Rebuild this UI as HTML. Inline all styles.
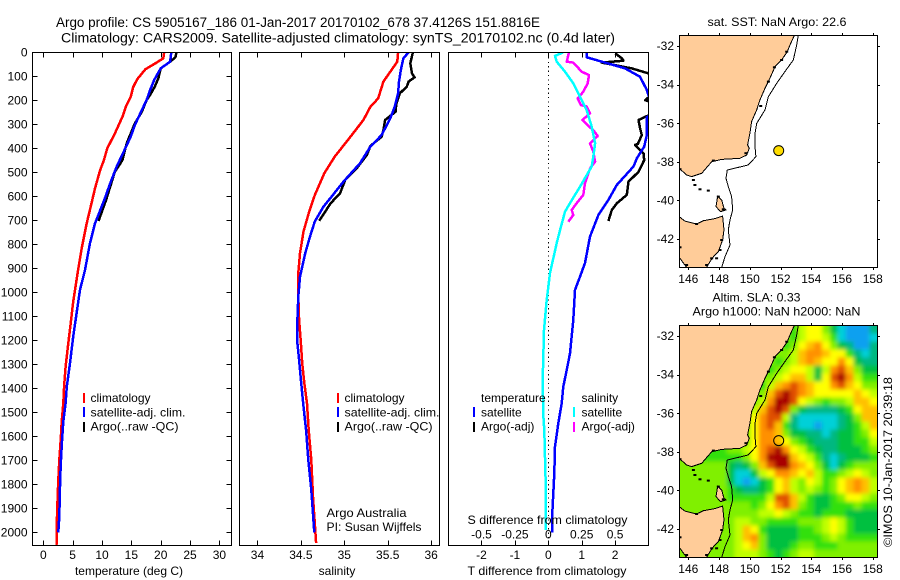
<!DOCTYPE html>
<html lang="en">
<head>
<meta charset="utf-8">
<title>Argo profile 5905167_186</title>
<style>
html,body{margin:0;padding:0;background:#fff;width:900px;height:580px;overflow:hidden}
svg{display:block}
text{font-family:"Liberation Sans",sans-serif;font-size:12px;fill:#000}
.title{font-size:13.5px}
.box{fill:none;stroke:#000;stroke-width:1;shape-rendering:crispEdges}
.tick{stroke:#000;stroke-width:1;shape-rendering:crispEdges}
.prof{fill:none;stroke-width:2.5;shape-rendering:crispEdges;stroke-linejoin:round}
.leg{stroke-width:2;shape-rendering:crispEdges}
</style>
</head>
<body>
<svg id="chart" xmlns="http://www.w3.org/2000/svg" width="900" height="580" viewBox="0 0 900 580">
  <defs>
    <clipPath id="clip-temp"><rect x="32" y="52" width="200" height="494"/></clipPath>
    <clipPath id="clip-sal"><rect x="239" y="52" width="201" height="494"/></clipPath>
    <clipPath id="clip-diff"><rect x="448" y="52" width="201" height="494"/></clipPath>
    <clipPath id="clip-map1"><rect x="679" y="35" width="199" height="233"/></clipPath>
    <clipPath id="clip-map2"><rect x="679" y="325" width="199" height="233"/></clipPath>
    <filter id="sla-blur" x="-10%" y="-10%" width="120%" height="120%"><feGaussianBlur stdDeviation="2.2"/></filter>
  </defs>

  <text class="title" x="56" y="27" textLength="484" lengthAdjust="spacingAndGlyphs">Argo profile: CS 5905167_186 01-Jan-2017 20170102_678 37.4126S 151.8816E</text>
  <text class="title" x="61" y="42.5" textLength="554" lengthAdjust="spacingAndGlyphs">Climatology: CARS2009. Satellite-adjusted climatology: synTS_20170102.nc (0.4d later)</text>

  <g id="panel-temp"></g>
  <g id="panel-sal"></g>
  <g id="panel-diff"></g>
  <g id="panel-map1"></g>
  <g id="panel-map2"></g>

  <text x="129" y="575" text-anchor="middle">temperature (deg C)</text>
  <text x="337" y="575" text-anchor="middle">salinity</text>
  <text x="467.5" y="575" textLength="159" lengthAdjust="spacingAndGlyphs">T difference from climatology</text>
  <text x="467.5" y="524" textLength="160" lengthAdjust="spacingAndGlyphs">S difference from climatology</text>

  <g>
    <line class="leg" x1="84" y1="393" x2="84" y2="403" stroke="#ff0000"/>
    <line class="leg" x1="84" y1="407" x2="84" y2="417" stroke="#0000ff"/>
    <line class="leg" x1="84" y1="422" x2="84" y2="432" stroke="#000000"/>
    <text x="90.5" y="402">climatology</text>
    <text x="90.5" y="416.5" textLength="95" lengthAdjust="spacingAndGlyphs">satellite-adj. clim.</text>
    <text x="90.5" y="430.5" textLength="88" lengthAdjust="spacingAndGlyphs">Argo(..raw -QC)</text>
  </g>
  <g>
    <line class="leg" x1="338" y1="393" x2="338" y2="403" stroke="#ff0000"/>
    <line class="leg" x1="338" y1="407" x2="338" y2="417" stroke="#0000ff"/>
    <line class="leg" x1="338" y1="422" x2="338" y2="432" stroke="#000000"/>
    <text x="344.5" y="402">climatology</text>
    <text x="344.5" y="416.5" textLength="95" lengthAdjust="spacingAndGlyphs">satellite-adj. clim.</text>
    <text x="344.5" y="430.5" textLength="88" lengthAdjust="spacingAndGlyphs">Argo(..raw -QC)</text>
    <text x="326.5" y="517" textLength="80" lengthAdjust="spacingAndGlyphs">Argo Australia</text>
    <text x="326.5" y="531" textLength="95" lengthAdjust="spacingAndGlyphs">PI: Susan Wijffels</text>
  </g>
  <g>
    <text x="481" y="402">temperature</text>
    <text x="581.5" y="402">salinity</text>
    <line class="leg" x1="474" y1="407" x2="474" y2="417" stroke="#0000ff"/>
    <line class="leg" x1="474" y1="422" x2="474" y2="432" stroke="#000000"/>
    <line class="leg" x1="574" y1="407" x2="574" y2="417" stroke="#00ffff"/>
    <line class="leg" x1="574" y1="422" x2="574" y2="432" stroke="#ff00ff"/>
    <text x="481" y="416.5">satellite</text>
    <text x="481" y="430.5">Argo(-adj)</text>
    <text x="581.5" y="416.5">satellite</text>
    <text x="581.5" y="430.5">Argo(-adj)</text>
  </g>

  <text x="707.5" y="26" textLength="139" lengthAdjust="spacingAndGlyphs">sat. SST: NaN Argo: 22.6</text>
  <text x="712.5" y="301.5" textLength="88" lengthAdjust="spacingAndGlyphs">Altim. SLA: 0.33</text>
  <text x="692.5" y="315.5" textLength="168" lengthAdjust="spacingAndGlyphs">Argo h1000: NaN h2000: NaN</text>
  <text transform="translate(892 547) rotate(-90)" textLength="170" lengthAdjust="spacingAndGlyphs">©IMOS 10-Jan-2017 20:39:18</text>
</svg>

<script>
// ---- tick labels
const depthTicks = [0,100,200,300,400,500,600,700,800,900,1000,1100,1200,1300,1400,1500,1600,1700,1800,1900,2000];
const tempTicks = [0,5,10,15,20,25,30];
const salTicks = [34,34.5,35,35.5,36];
const diffTTicks = [-2,-1,0,1,2];
const diffSTicks = [-0.5,-0.25,0,0.25,0.5];
const diffSTickLabels = ['-0.5','-0.25','0','0.25','0.5'];
const lonTicks = [146,148,150,152,154,156,158];
const latTicks = [-32,-34,-36,-38,-40,-42];

// ---- temperature profiles
const tempClimDepth = [0,25,43,71,112,146,185,224,268,338,400,451,490,567,615,713,817,920,1039,1129,1212,1310,1393,1463,1539,1615,1699,1782,1893,1977,2055];
const tempClimValue = [20.6,20.45,19.3,17.4,16.0,15.3,14.9,14.1,13.5,12.2,10.9,10.3,9.7,8.8,8.35,7.4,6.55,5.85,5.1,4.66,4.26,3.8,3.55,3.4,3.13,2.96,2.73,2.56,2.39,2.28,2.25];
const tempSatDepth = [0,39,67,115,157,199,240,303,351,414,476,546,615,713,795,907,990,1081,1185,1295,1393,1463,1539,1620,1720,1810,1935,2000];
const tempSatValue = [21.8,21.6,20,18.9,18.2,17.6,16.8,15.6,14.9,13.7,12.5,11.4,10.4,8.8,7.95,7.1,6.25,5.7,5.1,4.55,4.0,3.8,3.4,3.19,2.96,2.85,2.73,2.56];
const tempArgoDepth = [0,21,39,67,108,143,178,199,247,296,379,449,497,560,615,703];
const tempArgoValue = [22.7,22.5,21.6,20,19.6,19,18.2,17.6,16.8,15.6,14.2,13.5,12.2,11.4,10.7,9.4];

// ---- salinity profiles
const salClimDepth = [0,39,81,122,192,227,282,352,435,504,595,671,747,837,920,1018,1115,1212,1295,1378,1463,1574,1699,1852,2045];
const salClimValue = [35.62,35.61,35.53,35.45,35.39,35.3,35.22,35.07,34.89,34.77,34.66,34.59,34.53,34.49,34.47,34.47,34.48,34.5,34.515,34.54,34.57,34.59,34.62,34.64,34.675];
const salSatDepth = [0,25,74,122,171,227,275,345,393,463,539,601,643,705,768,838,935,1018,1115,1212,1282,1365,1476,1574,1699,1824,1977,2000];
const salSatValue = [35.74,35.68,35.65,35.63,35.62,35.58,35.53,35.43,35.3,35.18,34.99,34.855,34.76,34.66,34.605,34.55,34.49,34.47,34.46,34.46,34.48,34.5,34.53,34.56,34.585,34.62,34.65,34.655];
const salArgoDepth = [0,46,88,104,122,143,171,213,248,282,324,352,390,428,484,532,588,630,664,702];
const salArgoValue = [35.79,35.76,35.78,35.81,35.74,35.72,35.64,35.6,35.59,35.47,35.45,35.43,35.3,35.26,35.14,35.01,34.95,34.84,34.78,34.71];

// ---- difference profiles
const diffTSatDepth = [0,21,43,67,102,157,199,262,271,345,393,442,476,553,615,678,768,878,935,990,1115,1254,1324,1393,1463,1546,1643,1755,1921,2000];
const diffTSatValue = [1.15,1.15,1.7,2.3,2.75,2.95,3.05,3.05,2.95,2.95,2.87,2.65,2.55,2.05,1.8,1.5,1.25,1.1,0.95,0.8,0.75,0.65,0.55,0.45,0.4,0.3,0.2,0.18,0.12,0.12];
const diffTArgoDepth = [4,25,35,43,67,88,129,171,188,199,207,227,257,266,282,317,345,382,386,421,449,498,539,594,629,657,703];
const diffTArgoValue = [2.0,2.2,2.25,1.6,2.5,3.0,3.28,3.28,3.0,2.9,3.05,3.28,3.28,2.95,2.7,2.75,2.8,2.68,2.6,2.85,2.87,2.7,2.4,2.35,2.05,1.9,1.8];
const diffSSatDepth = [0,15,39,81,129,185,240,310,379,435,476,560,629,664,740,795,920,1032,1157,1365,1518,1574,1782,1990];
const diffSSatValue = [0.112,0.05,0.063,0.125,0.187,0.237,0.287,0.325,0.35,0.337,0.325,0.237,0.162,0.125,0.088,0.063,0.013,-0.012,-0.032,-0.042,-0.037,-0.03,-0.02,-0.017];
const diffSArgoDepth = [0,39,43,81,95,129,164,192,220,225,254,282,307,324,349,379,414,456,484,546,594,629,657,678,706];
const diffSArgoValue = [0.155,0.138,0.187,0.25,0.305,0.295,0.262,0.22,0.245,0.287,0.312,0.255,0.3,0.337,0.37,0.312,0.337,0.35,0.312,0.275,0.262,0.212,0.175,0.187,0.15];

// ---- map geography (lon, lat)
const mainlandLon = [152.90,152.62,152.44,152.07,151.64,151.31,150.99,150.66,150.45,150.12,150.01,149.86,149.97,149.80,149.36,148.17,147.52,146.87,146.22,145.89,145.41,145.41];
const mainlandLat = [-31.43,-31.93,-32.28,-32.71,-33.06,-33.66,-34.18,-34.79,-35.30,-35.91,-36.52,-37.12,-37.29,-37.64,-37.81,-37.87,-37.99,-38.59,-38.76,-38.68,-38.33,-31.43];
const tasmaniaLon = [145.41,145.78,146.54,146.98,147.74,148.23,148.32,148.23,147.95,147.63,147.41,147.19,145.89,145.41];
const tasmaniaLat = [-40.84,-41.07,-41.22,-41.05,-40.94,-40.81,-41.53,-42.05,-42.66,-42.92,-43.18,-43.47,-43.47,-42.95];
const flindersLon = [147.91,148.17,148.32,148.45,148.10,147.80];
const flindersLat = [-39.77,-39.98,-40.41,-40.49,-40.58,-40.32];
const isobathLon = [153.16,153.05,152.83,152.29,151.75,151.21,150.99,150.45,150.34,150.34,150.40,149.90,148.54,148.45,148.60,148.82,148.89,148.71,148.60,148.71,148.39,148.17];
const isobathLat = [-31.43,-31.93,-32.71,-33.31,-33.92,-34.61,-35.30,-36.00,-36.52,-37.21,-37.73,-38.16,-38.42,-38.85,-39.28,-39.80,-40.49,-41.01,-41.53,-42.31,-42.92,-43.47];
const islandLon = [152.40,152.07,151.60,151.21,150.71,149.75,147.63,146.33,145.46,147.30,146.43,146.76,148.28,147.95,146.54,148.17,148.06,147.52,147.84,147.19,145.46,145.89];
const islandLat = [-32.28,-32.71,-33.09,-33.83,-35.10,-37.55,-37.93,-38.94,-38.38,-39.49,-39.20,-39.42,-40.46,-39.80,-41.22,-42.05,-42.57,-43.00,-43.00,-43.35,-42.43,-43.35];
const floatLon = [151.8816];
const floatLat = [-37.4126];

// ---- SLA heatmap: 29 rows (north to south) x 25 columns (west to east), colour-level units
const slaLevels = [
[5,5,5,5,5,5,5,5,5,5,5,5,5,5,4,6,7,7,5,3,1,0,0,0,2],
[5,5,5,5,5,5,5,5,5,5,5,5,5,5,4,6,7,7,6,4,1,0,0,0,1],
[5,5,5,5,5,5,5,5,5,5,5,5,5,4,5,7,8,9,7,5,3,2,0,0,2],
[5,5,5,5,5,5,5,5,5,5,5,5,5,5,6,8,9,9,8,7,7,4,2,1,2],
[5,5,5,5,5,5,5,5,5,5,5,5,4,5,6,8,9,8,7,7,9,7,3,2,2],
[5,5,5,5,5,5,5,5,5,5,5,4,5,6,7,7,6,3,6,9,10,8,5,3,3],
[5,5,5,5,5,5,5,5,5,5,5,5,6,7,8,8,6,3,7,10,11,9,6,4,4],
[5,5,5,5,5,5,5,5,5,5,4,6,8,9,10,9,8,7,7,9,10,8,7,5,5],
[5,5,5,5,5,5,5,5,5,5,5,8,10,11,10,9,8,7,7,7,7,7,8,7,6],
[5,5,5,5,5,5,5,5,5,5,6,9,11,11,10,7,6,5,4,5,5,6,8,8,7],
[5,5,5,5,5,5,5,5,5,6,8,10,11,10,5,3,2,2,2,2,3,4,7,8,8],
[5,5,5,5,5,5,5,5,5,7,9,10,10,6,2,1,1,1,1,1,2,3,5,8,8],
[5,5,5,5,5,5,5,5,5,7,9,10,8,4,2,1,1,0,1,1,2,3,4,6,8],
[5,5,5,5,5,5,5,5,5,7,9,9,8,5,3,3,2,2,1,2,3,3,4,5,7],
[5,5,5,5,5,5,5,5,5,7,9,9,8,7,5,4,3,2,2,2,3,3,4,4,6],
[5,5,4,4,4,4,5,5,6,7,9,10,11,9,7,6,4,3,2,2,3,3,3,4,5],
[5,5,4,4,4,4,4,4,5,7,9,11,11,11,8,7,6,4,2,1,2,3,3,3,4],
[5,5,5,5,5,5,3,2,3,5,8,10,11,11,9,8,7,5,3,1,3,4,5,5,5],
[5,5,5,5,5,5,3,1,1,3,6,7,9,9,8,7,8,6,4,4,5,6,7,6,5],
[5,5,5,5,5,5,3,1,0,1,3,4,7,8,6,5,7,6,4,5,7,8,9,8,6],
[5,5,5,5,5,5,4,3,2,2,3,4,7,8,6,5,6,5,4,5,7,8,9,8,6],
[5,5,5,5,5,5,4,4,4,4,4,6,10,10,8,6,4,3,3,4,5,7,7,6,5],
[5,5,5,5,5,5,5,5,5,4,5,7,9,10,8,5,4,3,3,4,4,4,5,4,4],
[5,5,5,5,5,5,5,5,5,5,6,6,7,6,5,4,4,3,4,4,4,3,3,3,3],
[5,5,5,5,5,5,5,6,6,5,5,4,4,4,4,5,5,5,6,7,6,4,3,3,3],
[5,5,5,5,5,5,5,6,8,7,4,3,3,3,3,4,4,5,6,7,6,4,3,3,3],
[5,5,5,5,5,5,5,6,8,9,5,3,3,3,3,4,4,4,5,6,5,4,4,4,4],
[5,5,5,5,5,5,5,6,7,8,5,3,3,3,4,5,5,4,4,4,5,5,5,5,5],
[5,5,5,5,5,5,5,6,6,6,5,4,3,4,5,6,6,5,5,5,5,5,5,5,5]
];
const slaColours = ['#10a0f0','#00d0d8','#00b880','#00c040','#30e010','#80f000','#c0ff00','#ffff00','#ffc000','#ff9000','#e05000','#a80000'];

// ---- axis functions
const depthY = d => 52.3 + 0.24 * d;
const tempX = v => 43.3 + 5.87 * v;
const salX = v => 344.3 + 86.85 * (v - 35);
const diffTX = v => 548.3 + 33.4 * v;
const diffSX = v => 548.3 + 133.6 * v;
const lonX = lon => 688.3 + (lon - 146) * 15.37;
const latOffset = lat => (-32 - lat) * 19.27;

const NS = 'http://www.w3.org/2000/svg';
function make(tag, parent) {
  const el = document.createElementNS(NS, tag);
  parent.appendChild(el);
  return el;
}
function pts(xs, ys, fx, fy) {
  return xs.map((x, i) => fx(x).toFixed(1) + ',' + fy(ys[i]).toFixed(1)).join(' ');
}
function setLine(el, x1, y1, x2, y2) {
  el.setAttribute('x1', x1); el.setAttribute('y1', y1);
  el.setAttribute('x2', x2); el.setAttribute('y2', y2);
  el.setAttribute('class', 'tick');
}
function setText(el, x, y, anchor, str) {
  el.setAttribute('x', x); el.setAttribute('y', y);
  el.setAttribute('text-anchor', anchor);
  el.textContent = str;
}
function round(v) { return Math.round(v) + 0.5; }

// ---- profile panels
function profile(parent, clip, depths, values, fx, colour, name) {
  const p = make('polyline', parent);
  p.setAttribute('points', pts(values, depths, fx, depthY));
  p.setAttribute('class', 'prof');
  p.setAttribute('stroke', colour);
  p.setAttribute('clip-path', 'url(#' + clip + ')');
  
  
}
function frame(parent, x, y, w, h, name) {
  const r = make('rect', parent);
  r.setAttribute('x', x); r.setAttribute('y', y);
  r.setAttribute('width', w); r.setAttribute('height', h);
  r.setAttribute('class', 'box');
  
  
}
function topBottomTicks(parent, values, fx, top, bottom) {
  values.forEach(v => {
    const x = round(fx(v));
    const t = make('line', parent);
    setLine(t, x, top, x, top + 5);
    
    
    const b = make('line', parent);
    setLine(b, x, bottom - 5, x, bottom);
    
    
  });
}

const gT = document.getElementById('panel-temp');
profile(gT, 'clip-temp', tempArgoDepth, tempArgoValue, tempX, '#000000', 'temperature-argo-line');
profile(gT, 'clip-temp', tempClimDepth, tempClimValue, tempX, '#ff0000', 'temperature-climatology-line');
profile(gT, 'clip-temp', tempSatDepth, tempSatValue, tempX, '#0000ff', 'temperature-satellite-line');
frame(gT, 32.5, 52.5, 199, 493, 'temperature-axes-frame');
topBottomTicks(gT, tempTicks, tempX, 52.5, 545.5);
tempTicks.forEach(v => {
  const t = make('text', gT);
  setText(t, tempX(v), 559, 'middle', String(v));
  
  
});
depthTicks.forEach(d => {
  const y = round(depthY(d));
  const a = make('line', gT);
  setLine(a, 32.5, y, 37.5, y);
  
  
  const b = make('line', gT);
  setLine(b, 226.5, y, 231.5, y);
  
  
  const t = make('text', gT);
  setText(t, 27.5, depthY(d) + 4.2, 'end', String(d));
  
  
});

const gS = document.getElementById('panel-sal');
profile(gS, 'clip-sal', salArgoDepth, salArgoValue, salX, '#000000', 'salinity-argo-line');
profile(gS, 'clip-sal', salClimDepth, salClimValue, salX, '#ff0000', 'salinity-climatology-line');
profile(gS, 'clip-sal', salSatDepth, salSatValue, salX, '#0000ff', 'salinity-satellite-line');
frame(gS, 239.5, 52.5, 200, 493, 'salinity-axes-frame');
topBottomTicks(gS, salTicks, salX, 52.5, 545.5);
salTicks.forEach(v => {
  const t = make('text', gS);
  setText(t, salX(v), 559, 'middle', String(v));
  
  
});

const gD = document.getElementById('panel-diff');
const zeroLine = make('line', gD);
setLine(zeroLine, 548.5, 53, 548.5, 545);
zeroLine.setAttribute('stroke-dasharray', '1.2 3.2');


profile(gD, 'clip-diff', diffTArgoDepth, diffTArgoValue, diffTX, '#000000', 'temperature-argo-difference-line');
profile(gD, 'clip-diff', diffTSatDepth, diffTSatValue, diffTX, '#0000ff', 'temperature-satellite-difference-line');
profile(gD, 'clip-diff', diffSArgoDepth, diffSArgoValue, diffSX, '#ff00ff', 'salinity-argo-difference-line');
profile(gD, 'clip-diff', diffSSatDepth, diffSSatValue, diffSX, '#00ffff', 'salinity-satellite-difference-line');
frame(gD, 448.5, 52.5, 200, 493, 'difference-axes-frame');
topBottomTicks(gD, diffTTicks, diffTX, 52.5, 545.5);
diffTTicks.forEach(v => {
  const t = make('text', gD);
  setText(t, diffTX(v), 559, 'middle', String(v));
  
  
});
diffSTicks.forEach((v, i) => {
  const t = make('text', gD);
  setText(t, diffSX(v), 538.5, 'middle', diffSTickLabels[i]);
  
  
});

// ---- maps
function drawGeography(parent, top) {
  const fy = lat => top + 11 + latOffset(lat);
  [[mainlandLon, mainlandLat, 'mainland'], [tasmaniaLon, tasmaniaLat, 'tasmania'], [flindersLon, flindersLat, 'flinders-island']].forEach(shape => {
    const p = make('polygon', parent);
    p.setAttribute('points', pts(shape[0], shape[1], lonX, fy));
    p.setAttribute('fill', '#ffcc99');
    p.setAttribute('stroke', '#000');
    p.setAttribute('stroke-width', '1');
    p.setAttribute('shape-rendering', 'crispEdges');
    
    
  });
  islandLon.forEach((lon, i) => {
    const r = make('rect', parent);
    r.setAttribute('x', (lonX(lon) - 1.5).toFixed(1));
    r.setAttribute('y', (fy(islandLat[i]) - 1).toFixed(1));
    r.setAttribute('width', '3');
    r.setAttribute('height', '2');
    r.setAttribute('fill', '#000');
    
    
  });
  const iso = make('polyline', parent);
  iso.setAttribute('points', pts(isobathLon, isobathLat, lonX, fy));
  iso.setAttribute('fill', 'none');
  iso.setAttribute('stroke', '#000');
  iso.setAttribute('stroke-width', '1');
  iso.setAttribute('shape-rendering', 'crispEdges');
  
  
}
function drawMapAxes(parent, top) {
  const fy = lat => top + 11 + latOffset(lat);
  frame(parent, 679.5, top + 0.5, 198, 232, 'map-frame');
  lonTicks.forEach(v => {
    const x = round(lonX(v));
    const a = make('line', parent);
    setLine(a, x, top - 2, x, top);
    
    
    const b = make('line', parent);
    setLine(b, x, top + 233, x, top + 235);
    
    
    const t = make('text', parent);
    setText(t, lonX(v), top + 248, 'middle', String(v));
    
    
  });
  latTicks.forEach(v => {
    const y = round(fy(v));
    const a = make('line', parent);
    setLine(a, 677, y, 679, y);
    
    
    const b = make('line', parent);
    setLine(b, 878, y, 880, y);
    
    
    const t = make('text', parent);
    setText(t, 674, fy(v) + 4.2, 'end', String(v));
    
    
  });
}
function drawFloat(parent, top, fill) {
  const c = make('circle', parent);
  c.setAttribute('cx', lonX(floatLon[0]).toFixed(1));
  c.setAttribute('cy', (top + 11 + latOffset(floatLat[0])).toFixed(1));
  c.setAttribute('r', '5');
  c.setAttribute('fill', fill);
  c.setAttribute('stroke', '#000');
  c.setAttribute('stroke-width', '1');
  
  
}

const gM1 = document.getElementById('panel-map1');
const geo1 = make('g', gM1);
geo1.setAttribute('clip-path', 'url(#clip-map1)');


drawGeography(geo1, 35.3);
drawFloat(gM1, 35.3, '#ffdd00');
drawMapAxes(gM1, 35);

const gM2 = document.getElementById('panel-map2');
const heatClip = make('g', gM2);
heatClip.setAttribute('clip-path', 'url(#clip-map2)');


const heat = make('g', heatClip);
heat.setAttribute('filter', 'url(#sla-blur)');
heat.setAttribute('shape-rendering', 'crispEdges');


const nRows = slaLevels.length;
const nCols = slaLevels[0].length;
const cellW = 198 / nCols;
const cellH = 232 / nRows;
slaLevels.forEach((row, r) => {
  row.forEach((level, c) => {
    const cell = make('rect', heat);
    const pad = 14;
    const x0 = c === 0 ? 679.3 - pad : 679.3 + c * cellW;
    const x1 = c === nCols - 1 ? 877.3 + pad : 679.3 + (c + 1) * cellW;
    const y0 = r === 0 ? 325.3 - pad : 325.3 + r * cellH;
    const y1 = r === nRows - 1 ? 557.3 + pad : 325.3 + (r + 1) * cellH;
    cell.setAttribute('x', x0.toFixed(2));
    cell.setAttribute('y', y0.toFixed(2));
    cell.setAttribute('width', (x1 - x0 + 0.5).toFixed(2));
    cell.setAttribute('height', (y1 - y0 + 0.5).toFixed(2));
    cell.setAttribute('fill', slaColours[Math.max(0, Math.min(slaColours.length - 1, Math.round(level)))]);
    
    
  });
});
const geo2 = make('g', gM2);
geo2.setAttribute('clip-path', 'url(#clip-map2)');


drawGeography(geo2, 325.3);
drawFloat(gM2, 325.3, 'none');
drawMapAxes(gM2, 325);
</script>
</body>
</html>
